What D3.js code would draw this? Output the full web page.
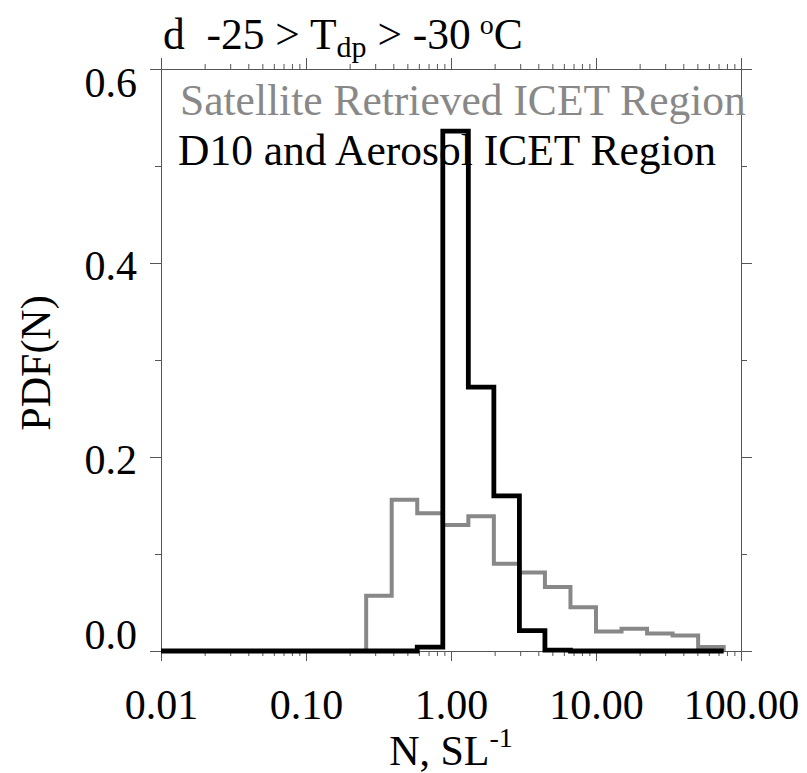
<!DOCTYPE html>
<html>
<head>
<meta charset="utf-8">
<script src="https://cdn.jsdelivr.net/npm/d3@7"></script>
<style>
  body { margin: 0; background: #fff; }
  svg { display: block; }
</style>
</head>
<body>
<div id="chart"></div>
<script>
// histogram bin edges (N, SL^-1): lower edge of every bin + last upper edge
const binEdges = [0.26, 0.39, 0.585, 0.878, 1.317, 1.975, 2.963, 4.444, 6.667, 10, 15, 22.5, 33.75, 50.63, 75.94];
// PDF per bin
const satellitePdf = [0.057, 0.156, 0.142, 0.130, 0.139, 0.090, 0.081, 0.066, 0.045, 0.020, 0.023, 0.018, 0.016, 0.004];
const d10Pdf       = [0, 0, 0.004, 0.536, 0.272, 0.160, 0.021, 0.001, 0, 0, 0, 0, 0, 0];
// axes
const xDomain = [0.01, 100];
const xMajorTicks = [0.01, 0.1, 1, 10, 100];
const yDomain = [0, 0.6];
const yMajorTicks = [0, 0.2, 0.4, 0.6];
const yMinorTicks = [0.1, 0.3, 0.5];
const legendLabels = ['Satellite Retrieved ICET Region', 'D10 and Aerosol ICET Region'];

const W = 807, H = 773;
const plot = { left: 161, right: 741, top: 69, bottom: 651 };
const FONT = "'Liberation Serif'";
const axisColor = '#555';
const grey = '#888';

const svg = d3.select('#chart').append('svg')
  .attr('width', W).attr('height', H);
svg.append('rect').attr('width', W).attr('height', H).attr('fill', '#fff');

// scales
const x = d3.scaleLog().domain(xDomain).range([plot.left, plot.right]);
const y = d3.scaleLinear().domain(yDomain).range([plot.bottom, plot.top]);
const xMinorTicks = x.ticks().filter(t => !xMajorTicks.some(m => Math.abs(m - t) < 1e-9));

// axes: major + minor, ticks pointing outward
function styleAxis(g) {
  g.attr('font-family', FONT).attr('font-size', 42);
  g.select('.domain').attr('stroke', axisColor).attr('stroke-width', 1);
  g.selectAll('.tick line').attr('stroke', axisColor).attr('stroke-width', 1);
  g.selectAll('.tick text').attr('fill', '#000')
    .style('font-family', FONT).style('font-size', '42px');
}

// bottom
svg.append('g').attr('transform', `translate(0,${plot.bottom})`)
  .call(d3.axisBottom(x).tickValues(xMinorTicks).tickFormat('').tickSize(5).tickSizeOuter(0))
  .call(styleAxis);
svg.append('g').attr('transform', `translate(0,${plot.bottom})`)
  .call(d3.axisBottom(x).tickValues(xMajorTicks).tickFormat(d3.format('.2f')).tickSize(10).tickSizeOuter(0).tickPadding(28))
  .call(styleAxis);
// top
svg.append('g').attr('transform', `translate(0,${plot.top})`)
  .call(d3.axisTop(x).tickValues(xMinorTicks).tickFormat('').tickSize(5).tickSizeOuter(0))
  .call(styleAxis);
svg.append('g').attr('transform', `translate(0,${plot.top})`)
  .call(d3.axisTop(x).tickValues(xMajorTicks).tickFormat('').tickSize(11).tickSizeOuter(0))
  .call(styleAxis);
// left
svg.append('g').attr('transform', `translate(${plot.left},0)`)
  .call(d3.axisLeft(y).tickValues(yMinorTicks).tickFormat('').tickSize(6).tickSizeOuter(0))
  .call(styleAxis);
svg.append('g').attr('transform', `translate(${plot.left},0)`)
  .call(d3.axisLeft(y).tickValues(yMajorTicks).tickFormat(d3.format('.1f')).tickSize(11).tickSizeOuter(0).tickPadding(13))
  .call(styleAxis)
  // end labels are pushed inside the axis range
  .call(g => g.selectAll('.tick text')
    .attr('dy', d => d === yDomain[1] ? '27px' : d === yDomain[0] ? '-3px' : '16px'));
// right
svg.append('g').attr('transform', `translate(${plot.right},0)`)
  .call(d3.axisRight(y).tickValues(yMinorTicks).tickFormat('').tickSize(6).tickSizeOuter(0))
  .call(styleAxis);
svg.append('g').attr('transform', `translate(${plot.right},0)`)
  .call(d3.axisRight(y).tickValues(yMajorTicks).tickFormat('').tickSize(11).tickSizeOuter(0))
  .call(styleAxis);

// histogram outlines
function steps(vals) {
  const pts = [[xDomain[0], 0]];
  vals.forEach((v, i) => pts.push([binEdges[i], v]));
  pts.push([binEdges[binEdges.length - 1], 0]);
  return pts;
}
const stepLine = d3.line()
  .x(d => x(d[0]))
  .y(d => y(d[1]))
  .curve(d3.curveStepAfter);

svg.append('path')
  .attr('d', stepLine(steps(satellitePdf)))
  .attr('fill', 'none').attr('stroke', grey).attr('stroke-width', 4)
  .attr('stroke-linejoin', 'miter');
svg.append('path')
  .attr('d', stepLine(steps(d10Pdf)))
  .attr('fill', 'none').attr('stroke', '#000').attr('stroke-width', 4.8)
  .attr('stroke-linejoin', 'miter');

// all free text in one group so it shares the serif face
const labels = svg.append('g').attr('font-family', FONT).style('font-family', FONT);

// legend (text only)
labels.append('text').attr('x', 180).attr('y', 115)
  .attr('fill', grey).style('font-size', '43.5px')
  .text(legendLabels[0]);
labels.append('text').attr('x', 178).attr('y', 165)
  .attr('fill', '#000').style('font-size', '43.5px')
  .text(legendLabels[1]);

// panel title
const title = labels.append('text').attr('x', 163).attr('y', 49)
  .attr('fill', '#000').style('font-size', '43.5px')
  .style('white-space', 'pre');
title.append('tspan').text('d  -25 > T');
title.append('tspan').attr('dy', 8).style('font-size', '30px').text('dp');
title.append('tspan').attr('dy', -8).text(' > -30');
title.append('tspan').attr('dy', -15).attr('dx', 9).style('font-size', '28px').text('o');
title.append('tspan').attr('dy', 15).text('C');

// axis titles
const xl = labels.append('text').attr('x', (plot.left + plot.right) / 2).attr('y', 765)
  .attr('text-anchor', 'middle').attr('fill', '#000').style('font-size', '42px');
xl.append('tspan').text('N, SL');
xl.append('tspan').attr('dy', -18).style('font-size', '28px').text('-1');

labels.append('text')
  .attr('transform', `translate(50,${(plot.top + plot.bottom) / 2 + 3}) rotate(-90)`)
  .attr('text-anchor', 'middle').attr('fill', '#000').style('font-size', '42px')
  .text('PDF(N)');
</script>
</body>
</html>
